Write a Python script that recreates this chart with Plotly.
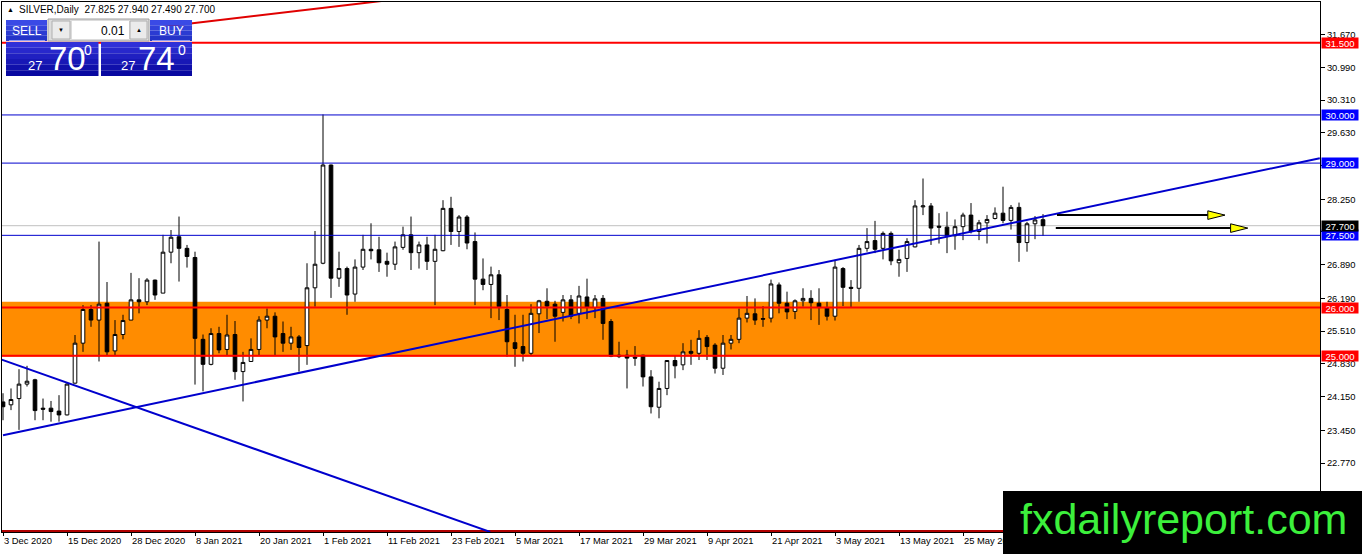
import plotly.graph_objects as go

# ---------------- data ----------------
opens = [24.04, 23.98, 24.11, 24.41, 24.50, 23.91, 23.91, 23.85, 23.77, 24.43,
         25.26, 25.96, 25.74, 26.09, 25.10, 25.44, 25.74, 26.16, 26.12, 26.57,
         26.30, 27.15, 27.47, 27.23, 27.04, 25.34, 24.82, 25.46, 25.13, 25.44,
         24.67, 24.88, 25.13, 25.74, 25.82, 25.46, 25.26, 25.39, 25.21, 26.41,
         26.92, 28.96, 26.61, 26.81, 26.28, 26.84, 27.21, 27.20, 26.96, 26.90,
         27.25, 27.51, 27.14, 27.30, 26.96, 27.18, 28.06, 27.58, 27.88, 27.37,
         26.59, 26.48, 26.68, 25.96, 25.27, 25.19, 25.05, 25.87, 26.13, 26.07,
         25.90, 26.16, 25.88, 26.22, 26.00, 26.19, 25.71, 25.01, 25.01, 24.97,
         25.01, 24.56, 23.93, 24.32, 24.90, 24.81, 25.09, 25.05, 25.38, 25.22,
         24.74, 25.26, 25.34, 25.78, 25.87, 25.77, 25.78, 26.47, 26.09, 25.92,
         26.14, 26.19, 26.09, 26.00, 25.82, 26.81, 26.42, 26.40, 27.23, 27.39,
         27.23, 27.54, 26.93, 27.02, 27.26, 28.09, 28.11, 27.69, 27.67, 27.49,
         27.68, 27.92, 27.58, 27.76, 27.85, 27.96, 27.81, 28.08, 27.35, 27.74,
         27.825]
highs = [24.22, 24.32, 24.72, 24.79, 24.52, 24.11, 24.06, 24.18, 24.43, 25.43,
         26.05, 26.05, 27.37, 26.53, 25.74, 25.85, 26.72, 26.61, 26.61, 26.58,
         27.51, 27.61, 27.89, 27.30, 27.16, 25.44, 25.57, 25.60, 25.85, 25.72,
         25.08, 25.36, 25.82, 25.98, 25.90, 25.71, 25.60, 25.43, 26.92, 27.59,
         30.01, 28.97, 27.16, 26.85, 27.00, 27.51, 27.75, 27.47, 27.14, 27.37,
         27.68, 27.89, 27.37, 27.47, 27.51, 28.23, 28.30, 27.92, 27.92, 27.56,
         27.02, 26.85, 26.78, 26.26, 25.85, 25.85, 26.07, 26.16, 26.40, 26.14,
         26.26, 26.26, 26.45, 26.60, 26.26, 26.26, 25.76, 25.29, 25.12, 25.20,
         25.02, 24.70, 24.46, 24.91, 25.01, 25.26, 25.33, 25.53, 25.43, 25.26,
         25.43, 25.43, 25.98, 26.24, 26.19, 26.03, 26.58, 26.52, 26.33, 26.17,
         26.40, 26.36, 26.40, 26.12, 26.99, 26.84, 26.57, 27.30, 27.65, 27.80,
         27.58, 27.58, 27.20, 27.44, 28.23, 28.68, 28.17, 27.96, 27.99, 27.83,
         27.97, 28.17, 27.82, 27.92, 28.08, 28.51, 28.13, 28.18, 27.78, 27.90,
         27.94]
lows = [23.66, 23.87, 23.46, 24.36, 23.66, 23.66, 23.63, 23.63, 23.76, 24.42,
        25.08, 25.60, 24.88, 25.01, 25.01, 25.34, 25.74, 25.88, 26.05, 26.16,
        26.30, 26.92, 26.54, 26.83, 24.40, 24.26, 24.80, 25.05, 25.01, 24.50,
        24.05, 24.87, 25.01, 25.57, 25.01, 25.08, 25.12, 24.67, 24.81, 26.02,
        26.90, 26.20, 26.43, 25.85, 26.12, 26.78, 27.00, 26.74, 26.64, 26.78,
        27.20, 26.78, 26.81, 26.78, 26.05, 27.17, 27.30, 27.26, 27.21, 26.05,
        26.36, 25.78, 25.74, 24.98, 24.77, 24.88, 25.01, 25.47, 25.76, 25.29,
        25.71, 25.76, 25.67, 25.76, 25.78, 25.33, 24.97, 24.95, 24.32, 24.79,
        24.36, 23.80, 23.70, 24.18, 24.53, 24.70, 24.81, 24.91, 24.91, 24.63,
        24.60, 25.13, 25.26, 25.69, 25.64, 25.60, 25.69, 25.88, 25.76, 25.76,
        26.02, 25.74, 25.64, 25.73, 25.73, 26.03, 26.00, 26.12, 27.16, 27.13,
        27.00, 26.88, 26.64, 26.74, 27.25, 27.92, 27.30, 27.33, 27.13, 27.20,
        27.40, 27.54, 27.40, 27.33, 27.83, 27.75, 27.62, 26.95, 27.16, 27.42,
        27.49]
closes = [23.94, 24.09, 24.41, 24.47, 23.86, 23.89, 23.84, 23.77, 24.41, 25.26,
          25.96, 25.74, 26.07, 25.08, 25.44, 25.73, 26.16, 26.12, 26.57, 26.26,
          27.15, 27.46, 27.23, 27.06, 25.36, 24.82, 25.46, 25.12, 25.43, 24.67,
          24.86, 25.13, 25.74, 25.82, 25.39, 25.26, 25.39, 25.17, 26.41, 26.90,
          28.96, 26.61, 26.81, 26.26, 26.84, 27.21, 27.18, 26.93, 26.90, 27.26,
          27.51, 27.14, 27.30, 26.96, 27.21, 28.06, 27.58, 27.88, 27.34, 26.59,
          26.48, 26.68, 26.02, 25.29, 25.15, 25.05, 25.88, 26.14, 26.03, 25.82,
          26.16, 25.82, 26.24, 26.00, 26.18, 25.67, 24.99, 24.98, 24.95, 24.95,
          24.56, 23.94, 24.32, 24.90, 24.79, 25.08, 25.05, 25.36, 25.19, 24.74,
          25.26, 25.34, 25.78, 25.88, 25.74, 25.76, 26.49, 26.09, 25.91, 26.14,
          26.19, 26.10, 26.00, 25.82, 26.84, 26.42, 26.40, 27.23, 27.37, 27.21,
          27.54, 26.97, 27.00, 27.37, 28.11, 28.11, 27.65, 27.67, 27.49, 27.68,
          27.92, 27.58, 27.76, 27.83, 27.96, 27.81, 28.08, 27.35, 27.74, 27.82,
          27.70]
bars = list(range(len(closes)))

date_tick_bars = [0, 8, 16, 24, 32, 40, 48, 56, 64, 72, 80, 88, 96, 104, 112, 120]
date_tick_labels = ["3 Dec 2020", "15 Dec 2020", "28 Dec 2020", "8 Jan 2021", "20 Jan 2021",
                    "1 Feb 2021", "11 Feb 2021", "23 Feb 2021", "5 Mar 2021", "17 Mar 2021",
                    "29 Mar 2021", "9 Apr 2021", "21 Apr 2021", "3 May 2021", "13 May 2021",
                    "25 May 2021"]
price_ticks = [22.77, 23.45, 24.15, 24.83, 25.51, 26.19, 26.89, 27.57, 28.25, 28.95,
               29.63, 30.31, 30.99, 31.67]
# ticks whose labels sit under the level boxes
hidden_ticks = [27.57, 28.95]

# horizontal levels (price, colour key)
hlevels = [31.5, 30.0, 29.0, 27.5, 26.0, 25.0]
hlevel_kinds = ["red", "blue", "blue", "blue", "red", "red"]
last_price = 27.70
bottom_level = 21.35
zone_low, zone_high = 24.98, 26.12

# trend lines: (bar0, price0, bar1, price1)
trend_up = (0.0, 23.35, 164.6, 29.10)
trend_down = (-0.2, 24.92, 60.9, 21.34)
trend_red = (20.0, 31.83, 48.0, 32.38)

# arrows: start bar, tip bar, price
arrow_start = [131.75, 131.6]
arrow_tip = [152.75, 155.6]
arrow_price = [27.92, 27.65]

ohlc_header = "SILVER,Daily  27.825 27.940 27.490 27.700"

# ---------------- layout geometry ----------------
FW, FH = 1362, 554
L, R, T, B = 2, 42, 2, 22
W, H = FW - L - R, FH - T - B
PX_PER_UNIT = 48.15
Y_TOP = 25 + (355.7 - T) / PX_PER_UNIT
Y_BOT = 25 - (FH - B - 355.7) / PX_PER_UNIT
X_LEFT = (L - 3) / 8.0
X_RIGHT = X_LEFT + W / 8.0


def px(x):
    return (x - L) / W


def py(y):
    return 1 - (y - T) / H


BLUE = "#0000CD"
RED = "#FF0000"
colour = {"red": RED, "blue": BLUE}

fig = go.Figure()
fig.add_trace(go.Candlestick(
    x=bars, open=opens, high=highs, low=lows, close=closes,
    increasing=dict(line=dict(color="black", width=1), fillcolor="white"),
    decreasing=dict(line=dict(color="black", width=1), fillcolor="black"),
    whiskerwidth=0, hoverinfo="skip", showlegend=False,
))

shapes = []
# orange zone (behind candles)
shapes.append(dict(type="rect", xref="paper", yref="y", x0=0, x1=1, y0=zone_low, y1=zone_high,
                   fillcolor="#FF8C00", line=dict(width=0), layer="below"))
# last price line
shapes.append(dict(type="line", xref="paper", yref="y", x0=0, x1=1, y0=last_price, y1=last_price,
                   line=dict(color="#C0C0C0", width=1), layer="below"))
for lv, kind in zip(hlevels, hlevel_kinds):
    shapes.append(dict(type="line", xref="paper", yref="y", x0=0, x1=1, y0=lv, y1=lv,
                       line=dict(color=colour[kind], width=2 if kind == "red" else 1)))
shapes.append(dict(type="line", xref="paper", yref="y", x0=0, x1=1, y0=bottom_level, y1=bottom_level,
                   line=dict(color="#B00000", width=3)))
for (xa, ya, xb, yb), col in [(trend_up, BLUE), (trend_down, BLUE), (trend_red, "#E00000")]:
    shapes.append(dict(type="line", xref="x", yref="y", x0=xa, y0=ya, x1=xb, y1=yb,
                       line=dict(color=col, width=2)))
# arrows
HEAD_LEN = 2.15
HEAD_HALF = 4.3 / PX_PER_UNIT
for xs, xt, pr in zip(arrow_start, arrow_tip, arrow_price):
    shapes.append(dict(type="line", xref="x", yref="y", x0=xs, x1=xt - HEAD_LEN, y0=pr, y1=pr,
                       line=dict(color="black", width=2)))
    path = f"M {xt - HEAD_LEN},{pr - HEAD_HALF} L {xt},{pr} L {xt - HEAD_LEN},{pr + HEAD_HALF} Z"
    shapes.append(dict(type="path", xref="x", yref="y", path=path,
                       fillcolor="#FFFF00", line=dict(color="black", width=1)))

annotations = []
# price labels on the right axis
for lv, kind in list(zip(hlevels, hlevel_kinds)) + [(last_price, "black")]:
    bg = {"red": "#FF0000", "blue": "#0000FF", "black": "#000000"}[kind]
    annotations.append(dict(xref="paper", yref="y", x=1, y=lv, xanchor="left", yanchor="middle",
                            xshift=1, text=f"{lv:.3f}", showarrow=False, bgcolor=bg, width=36, height=10,
                            font=dict(color="white", size=9.5, family="Liberation Sans"),
                            borderpad=0))

# header text
annotations.append(dict(xref="paper", yref="paper", x=px(5), y=py(10), xanchor="left", yanchor="middle",
                        text="▲", showarrow=False, font=dict(size=7, color="black")))
annotations.append(dict(xref="paper", yref="paper", x=px(17), y=py(10), xanchor="left", yanchor="middle",
                        text=ohlc_header, showarrow=False,
                        font=dict(size=10, color="black", family="Liberation Sans")))


def grad_rect(x0, x1, y0, y1, c_top, c_bot, n=6):
    def hx(c):
        return [int(c[i:i + 2], 16) for i in (1, 3, 5)]
    a, b = hx(c_top), hx(c_bot)
    for k in range(n):
        t = k / (n - 1)
        c = "#%02x%02x%02x" % tuple(int(a[j] + (b[j] - a[j]) * t) for j in range(3))
        ya = y0 + (y1 - y0) * k / n
        yb = y0 + (y1 - y0) * (k + 1) / n
        shapes.append(dict(type="rect", xref="paper", yref="paper", x0=px(x0), x1=px(x1),
                           y0=py(ya), y1=py(yb), fillcolor=c, line=dict(width=0)))


# trade panel
shapes.append(dict(type="rect", xref="paper", yref="paper", x0=px(48), x1=px(149), y0=py(19), y1=py(41),
                   fillcolor="#DCDCDC", line=dict(color="#A0A0A0", width=1)))
shapes.append(dict(type="rect", xref="paper", yref="paper", x0=px(72), x1=px(129), y0=py(21), y1=py(39),
                   fillcolor="white", line=dict(width=0)))
for bx0, bx1 in [(52, 70), (130, 147)]:
    shapes.append(dict(type="rect", xref="paper", yref="paper", x0=px(bx0), x1=px(bx1), y0=py(21), y1=py(39),
                       fillcolor="#EBEBEB", line=dict(color="#B0B0B0", width=1)))
grad_rect(6, 47, 20, 41, "#3A4AE6", "#2434C8", 4)
grad_rect(150, 192, 20, 41, "#3A4AE6", "#2434C8", 4)
grad_rect(6, 98.5, 42, 76, "#3030D8", "#0808A0", 6)
grad_rect(101, 192, 42, 76, "#3030D8", "#0808A0", 6)
for bx0, bx1 in [(9, 45), (152, 190)]:
    shapes.append(dict(type="line", xref="paper", yref="paper", x0=px(bx0), x1=px(bx1), y0=py(40.5), y1=py(40.5),
                       line=dict(color="#8C9AF5", width=1)))


def ptext(x, y, text, size, color="white", anchor="center", family="Liberation Sans"):
    annotations.append(dict(xref="paper", yref="paper", x=px(x), y=py(y), xanchor=anchor, yanchor="middle",
                            text=text, showarrow=False, font=dict(size=size, color=color, family=family)))


ptext(27, 30.5, "SELL", 12)
ptext(171, 30.5, "BUY", 12)
ptext(127, 30.5, "0.01", 12, "black", "right")
ptext(61, 30, "▼", 6, "black")
ptext(138.5, 30, "▲", 6, "black")
ptext(35, 66, "27", 13)
ptext(67, 59, "70", 33)
ptext(88, 50, "0", 14)
ptext(128, 66, "27", 13)
ptext(156, 59, "74", 33)
ptext(182, 50, "0", 14)

# watermark
shapes.append(dict(type="rect", xref="paper", yref="paper", x0=px(1003), x1=px(1362 + 5), y0=py(491), y1=py(554 + 5),
                   fillcolor="black", line=dict(width=0)))
annotations.append(dict(xref="paper", yref="paper", x=px(1183), y=py(519), xanchor="center", yanchor="middle",
                        text="fxdailyreport.com", showarrow=False,
                        font=dict(size=43, color="#3CF03C", family="Liberation Sans")))

fig.update_layout(
    width=FW, height=FH,
    margin=dict(l=L, r=R, t=T, b=B, autoexpand=False),
    paper_bgcolor="white", plot_bgcolor="white",
    font=dict(family="Liberation Sans", size=10, color="black"),
    showlegend=False, hovermode=False, boxgap=0.35,
    shapes=shapes, annotations=annotations,
    xaxis=dict(range=[X_LEFT, X_RIGHT], rangeslider=dict(visible=False), tickvals=date_tick_bars,
               ticktext=date_tick_labels, ticks="outside", ticklen=3, tickcolor="black",
               ticklabelposition="outside right", tickangle=0, automargin=False,
               showgrid=False, zeroline=False,
               showline=True, linecolor="black", linewidth=1, mirror=True,
               tickfont=dict(size=9.4)),
    yaxis=dict(range=[Y_BOT, Y_TOP], side="right", tickvals=price_ticks, automargin=False,
               ticktext=["" if v in hidden_ticks else f"{v:.3f}" for v in price_ticks],
               ticks="outside", ticklen=4,
               tickcolor="black", showgrid=False, zeroline=False, showline=True,
               linecolor="black", linewidth=1, mirror=True, tickfont=dict(size=9.4)),
)

fig.write_html("out.html", config={"displayModeBar": False},
               post_script="document.body.style.margin='0';")
